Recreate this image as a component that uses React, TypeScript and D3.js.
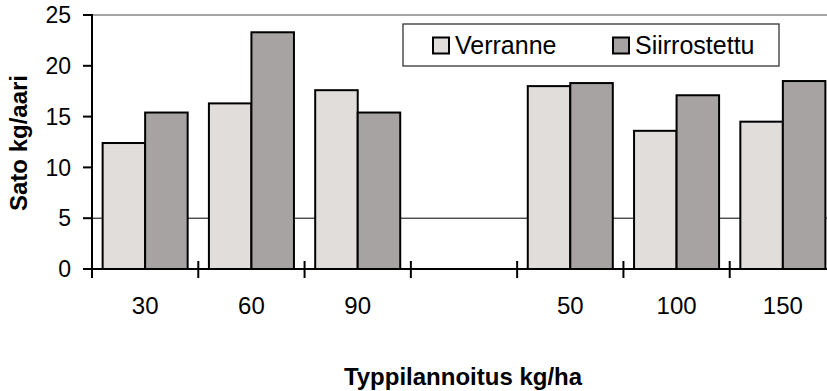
import React from "react";
import * as d3 from "d3";

// Nitrogen rate groups (an empty slot separates the two trials)
const categories = ["30", "60", "90", "", "50", "100", "150"];
const seriesNames = ["Verranne", "Siirrostettu"];
const verranne = [12.4, 16.3, 17.6, null, 18.0, 13.6, 14.5];
const siirrostettu = [15.4, 23.3, 15.4, null, 18.3, 17.1, 18.5];
const yTicks = [0, 5, 10, 15, 20, 25];

const colors = ["#e0dddb", "#a8a3a3"];

const W = 827;
const H = 391;
const left = 92;
const right = 836;
const top = 15;
const bottom = 269;

export default function App() {
  const x0 = d3.scaleBand<number>().domain(d3.range(categories.length)).range([left, right]).padding(0);
  const x1 = d3
    .scaleBand<string>()
    .domain(seriesNames)
    .range([0, x0.bandwidth()])
    .paddingInner(0)
    .paddingOuter(0.25);
  const y = d3.scaleLinear().domain([0, 25]).range([bottom, top]);

  const values = [verranne, siirrostettu];
  const font = "'Liberation Sans', Arial, sans-serif";

  return (
    <svg
      width={W}
      height={H}
      style={{ position: "absolute", left: 0, top: 0, background: "#fff" }}
      fontFamily={font}
    >
      {/* top frame line at the axis maximum */}
      <line x1={left} x2={W} y1={y(25)} y2={y(25)} stroke="#a6a3a3" strokeWidth={2} />
      {/* gridline at 5 */}
      <line x1={left} x2={W} y1={y(5)} y2={y(5)} stroke="#000" strokeWidth={1} />

      {/* bars */}
      {categories.map((c, i) =>
        seriesNames.map((s, j) => {
          const v = values[j][i];
          if (v == null) return null;
          const bx = (x0(i) as number) + (x1(s) as number);
          return (
            <rect
              key={`${i}-${s}`}
              x={bx}
              y={y(v)}
              width={x1.bandwidth()}
              height={y(0) - y(v)}
              fill={colors[j]}
              stroke="#000"
              strokeWidth={2}
            />
          );
        })
      )}

      {/* y axis */}
      <line x1={left} x2={left} y1={y(25) - 1} y2={y(0)} stroke="#000" strokeWidth={2} />
      {yTicks.map((t) => (
        <g key={t}>
          <line x1={left - 9} x2={left} y1={y(t)} y2={y(t)} stroke="#000" strokeWidth={2} />
          <text x={left - 21} y={y(t)} dy="0.36em" textAnchor="end" fontSize={23} fill="#000">
            {t}
          </text>
        </g>
      ))}

      {/* x axis */}
      <line x1={left - 9} x2={W} y1={y(0)} y2={y(0)} stroke="#000" strokeWidth={2} />
      {d3.range(categories.length + 1).map((i) => {
        const tx = i < categories.length ? (x0(i) as number) : right;
        return (
          <line key={i} x1={tx} x2={tx} y1={y(0) - 8} y2={y(0) + 9} stroke="#000" strokeWidth={2} />
        );
      })}
      {categories.map((c, i) => (
        <text
          key={i}
          x={(x0(i) as number) + x0.bandwidth() / 2}
          y={314}
          textAnchor="middle"
          fontSize={24}
          fill="#000"
        >
          {c}
        </text>
      ))}

      {/* axis titles */}
      <text
        transform={`translate(27,${(top + bottom) / 2 + 1}) rotate(-90)`}
        textAnchor="middle"
        fontSize={24}
        fontWeight="bold"
        fill="#000"
      >
        Sato kg/aari
      </text>
      <text x={463} y={385} textAnchor="middle" fontSize={24} fontWeight="bold" fill="#000">
        Typpilannoitus kg/ha
      </text>

      {/* legend */}
      <rect x={403} y={24} width={376} height={42} fill="#fff" stroke="#333" strokeWidth={1.3} />
      {seriesNames.map((s, j) => {
        const lx = j === 0 ? 433 : 613;
        return (
          <g key={s}>
            <rect x={lx} y={37.5} width={16} height={16} fill={colors[j]} stroke="#000" strokeWidth={2} />
            <text x={lx + 22} y={54} fontSize={25} fill="#000">
              {s}
            </text>
          </g>
        );
      })}
    </svg>
  );
}
